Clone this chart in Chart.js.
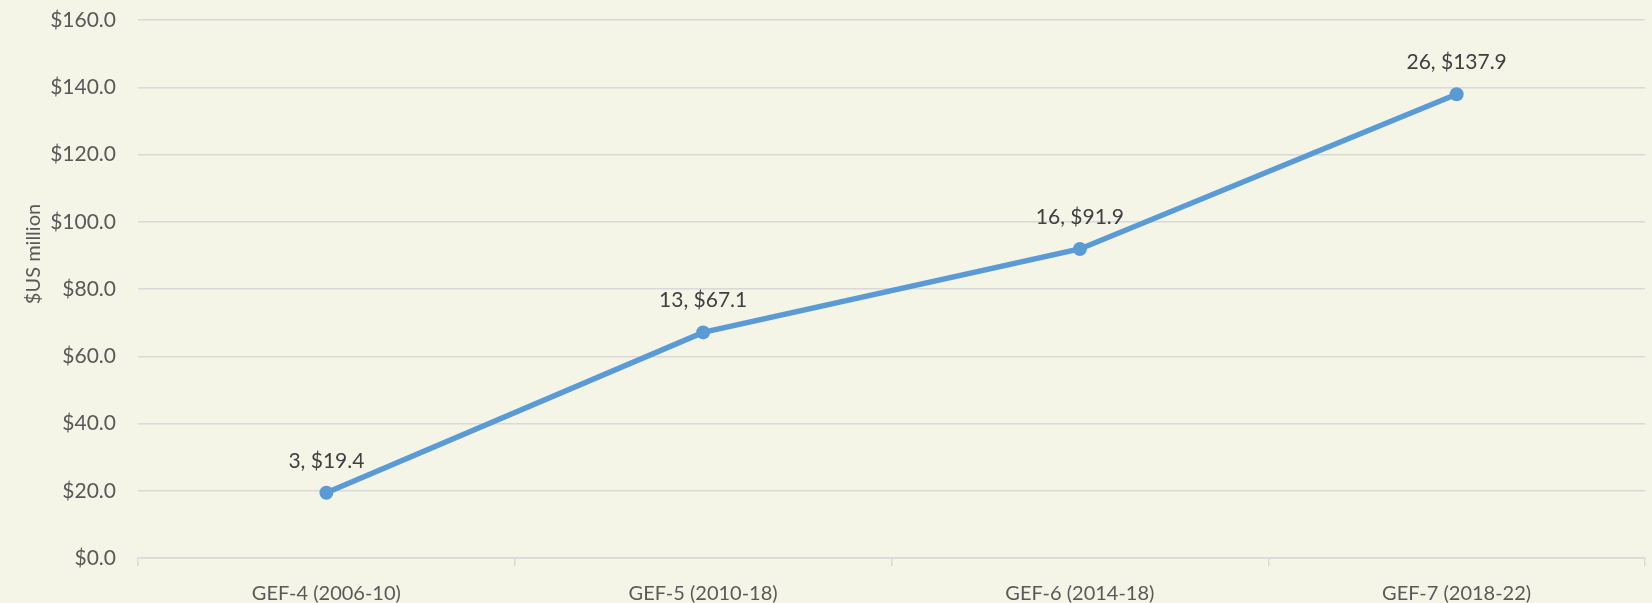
<!DOCTYPE html>
<html>
<head>
<meta charset="utf-8">
<script src="https://cdn.jsdelivr.net/npm/chart.js@4"></script>
<style>
    html, body { margin:0; padding:0; background:#F4F5E7; }
    #wrap { width:1652px; height:603px; }
</style>
</head>
<body>
<div id="wrap"><canvas id="gefChart"></canvas></div>
<script>
// =========================================
// Data
// =========================================

const periods = ["GEF-4 (2006-10)","GEF-5 (2010-18)","GEF-6 (2014-18)","GEF-7 (2018-22)"];

const projects = [3,13,16,26];

const amounts = [19.4,67.1,91.9,137.9];

const FONT = "Lato, 'Open Sans', sans-serif";

Chart.defaults.font.family = FONT;
Chart.defaults.color = "#595959";

// =========================================
// Point labels "count, $amount" + axis title
// =========================================

const pointLabels = {
    id:"pointLabels",
    afterDatasetsDraw(chart){
        const ctx = chart.ctx;
        const meta = chart.getDatasetMeta(0);
        ctx.save();
        ctx.font = "21px " + FONT;
        ctx.fillStyle = "#404040";
        ctx.textAlign = "center";
        ctx.textBaseline = "middle";
        meta.data.forEach((pt,i)=>{
            ctx.fillText(projects[i] + ", $" + amounts[i].toFixed(1), pt.x, pt.y - 32);
        });
        ctx.restore();
    }
};

const yTitle = {
    id:"yTitle",
    afterDraw(chart){
        const ctx = chart.ctx;
        ctx.save();
        ctx.translate(34, 254);
        ctx.rotate(-Math.PI/2);
        ctx.font = "20px " + FONT;
        ctx.fillStyle = "#595959";
        ctx.textAlign = "center";
        ctx.textBaseline = "middle";
        ctx.fillText("$US million", 0, 0);
        ctx.restore();
    }
};

new Chart(document.getElementById("gefChart"),{

    type:"line",

    data:{
        labels:periods,
        datasets:[{
            label:"$US million",
            data:amounts,
            borderColor:"#5B9BD5",
            backgroundColor:"#5B9BD5",
            borderWidth:5.5,
            pointRadius:7,
            pointBackgroundColor:"#5B9BD5",
            pointBorderWidth:0,
            tension:0
        }]
    },

    options:{
        responsive:true,
        maintainAspectRatio:false,
        animation:false,
        layout:{ padding:{ top:20, right:6, left:0, bottom:0 } },
        plugins:{
            legend:{ display:false },
            tooltip:{ enabled:false }
        },
        scales:{
            x:{
                offset:true,
                grid:{
                    offset:true,
                    drawOnChartArea:false,
                    drawTicks:true,
                    tickLength:8,
                    color:"#D9D9D9",
                    lineWidth:1.5
                },
                border:{ display:true, color:"#D9D9D9", width:1.5 },
                ticks:{ font:{ size:20 }, color:"#595959", padding:16 },
                afterFit(scale){ scale.height = 45; }
            },
            y:{
                min:0,
                max:160,
                ticks:{
                    stepSize:20,
                    font:{ size:21 },
                    color:"#595959",
                    padding:0,
                    callback:(v)=>"$" + Number(v).toFixed(1)
                },
                grid:{
                    color:"#D9D9D9",
                    lineWidth:1.5,
                    drawTicks:true,
                    tickLength:22,
                    tickColor:"rgba(0,0,0,0)"
                },
                border:{ display:false },
                afterFit(scale){ scale.width = 138; }
            }
        }
    },

    plugins:[pointLabels,yTitle]

});
</script>
</body>
</html>
